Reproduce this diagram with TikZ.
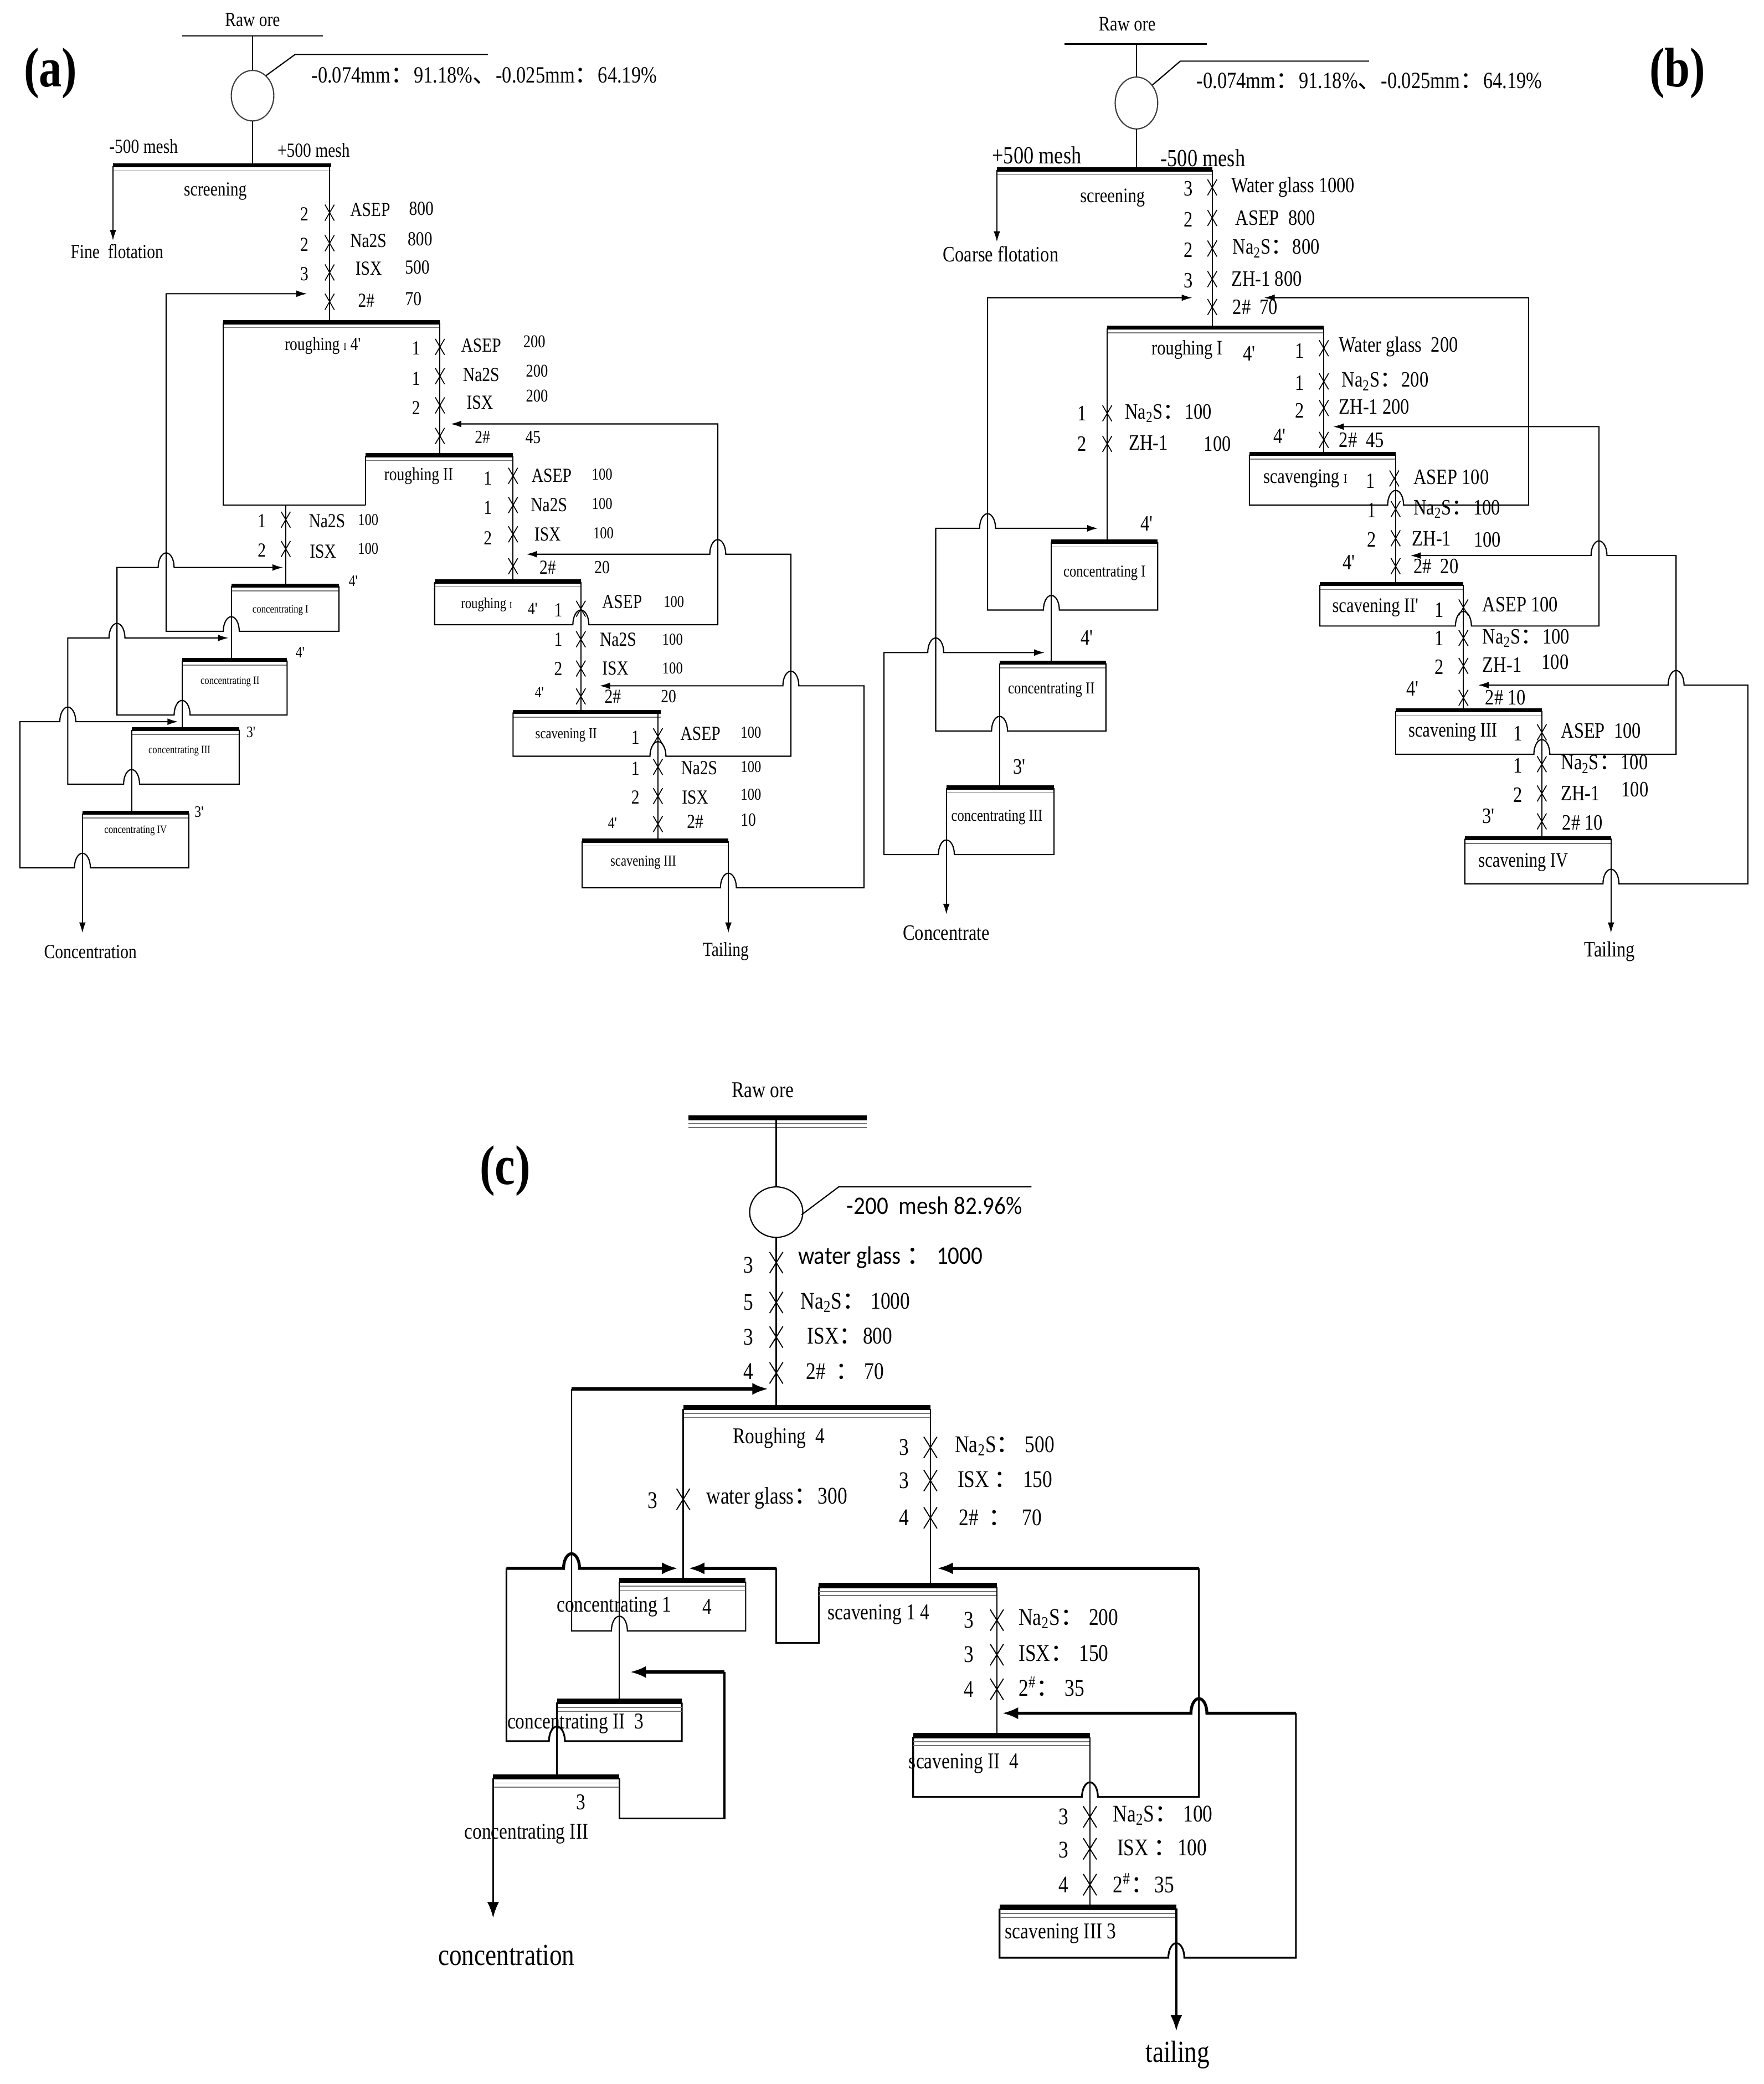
\documentclass[tikz,border=0pt]{standalone}
\usepackage{fontspec}
\setmainfont{Liberation Serif}[FakeStretch=0.82]
\newfontfamily\cjk{Noto Sans CJK SC}
\newfontfamily\calfont{Carlito}[FakeStretch=0.9]
\usetikzlibrary{arrows.meta}
\newcommand\fc{{\cjk ：}}
\newcommand\dn{{\cjk 、}}
\newcommand\pr{\textquotesingle}
\newcommand\fs[1]{\fontsize{#1}{#1}\selectfont}
\newcounter{tn}
\newcommand\T[4][]{\stepcounter{tn}\node[#1] (n\arabic{tn}) at (#2,#3) {#4};}
\newcommand\cellbar[3]{%
  \draw[line width=3pt] (#1,{#3-0.5}) -- (#2,{#3-0.5});
  \draw[line width=0.7pt,black!55] (#1,{#3+3.5}) -- (#2,{#3+3.5});}
\newcommand\cellbarC[3]{%
  \draw[line width=4pt] (#1,{#3-1}) -- (#2,{#3-1});
  \draw[line width=0.8pt,black!55] (#1,{#3+3.5}) -- (#2,{#3+3.5});
  \draw[line width=0.8pt,black!55] (#1,{#3+6.5}) -- (#2,{#3+6.5});}
\newcommand\xm[2]{\draw[line width=0.7pt] ({#1-3.5},{#2-6}) -- ({#1+3.5},{#2+6}) ({#1-3.5},{#2+6}) -- ({#1+3.5},{#2-6});}
\newcommand\xmC[2]{\draw[line width=0.8pt] ({#1-5},{#2-8}) -- ({#1+5},{#2+8}) ({#1-5},{#2+8}) -- ({#1+5},{#2-8});}
\def\hopR#1#2{-- ({#1-6},#2) arc[start angle=180,end angle=360,x radius=6,y radius=11]}
\def\hopL#1#2{-- ({#1+6},#2) arc[start angle=0,end angle=-180,x radius=6,y radius=11]}
\tikzset{
  arr/.style={-{Latex[length=8pt,width=5pt]}},
  arrC/.style={-{Latex[length=12pt,width=9pt]},line width=2.2pt},
  every node/.style={inner sep=0pt},
}
\begin{document}
\begin{tikzpicture}[x=1pt,y=-1pt,line width=0.9pt]
\useasboundingbox (0,0) rectangle (1327,1568);
\fill[white] (0,0) rectangle (1327,1568);

%%%%%%%%%%%%%%%% PANEL A
\begin{scope}[every node/.style={inner sep=0pt,font=\fs{15}}]
\T[font=\fs{42}\bfseries]{38}{55}{(a)}
\T{190}{15}{Raw ore}
\draw[line width=1.2pt,black!70] (137,27) -- (243,27);
\draw (190,27) -- (190,53);
\draw[black!75] (190,72) ellipse [x radius=16,y radius=19];
\draw (200,57) -- (222,41) -- (367,41);
\T[anchor=west,font=\fs{17.5}]{234}{57}{-0.074mm\fc 91.18\%\dn -0.025mm\fc 64.19\%}
\draw (190,91) -- (190,125);
\cellbar{85}{249}{125}
\T{108}{110}{-500 mesh}
\T{236}{113}{+500 mesh}
\T{162}{144}{screening}
\draw[arr] (85,125) -- (85,181);
\T{88}{189}{Fine\ \ flotation}
\draw (248,125) -- (248,243);
\xm{248}{160}\T{229}{161}{2}\T[anchor=west]{263}{158}{ASEP}\T{317}{157}{800}
\xm{248}{183}\T{229}{184}{2}\T[anchor=west]{263}{181}{Na2S}\T{316}{180}{800}
\xm{248}{205}\T{229}{206}{3}\T[anchor=west]{267}{202}{ISX}\T{314}{201}{500}
\xm{248}{227}\T[anchor=west]{269}{226}{2\#}\T{311}{225}{70}

% roughing I
\cellbar{168}{331}{243}
\draw (168,243) -- (168,380) -- (275,380);
\draw (331,243) -- (331,343);
\T[font=\fs{14}]{243}{260}{roughing {\fs{8}I} 4\pr}
\xm{331}{261}\T{313}{262}{1}\T{362}{260}{ASEP}\T[font=\fs{13.5}]{402}{257}{200}
\xm{331}{283}\T{313}{285}{1}\T{362}{282}{Na2S}\T[font=\fs{13.5}]{404}{279}{200}
\xm{331}{305}\T{313}{307}{2}\T{361}{303}{ISX}\T[font=\fs{13.5}]{404}{298}{200}
\xm{331}{328}\T[font=\fs{14}]{363}{329}{2\#}\T[font=\fs{14}]{401}{329}{45}

% roughing II
\cellbar{275}{386}{343}
\draw (275,343) -- (275,380);
\draw (386,343) -- (386,438);
\T[font=\fs{14}]{315}{358}{roughing II}
\xm{386}{358}\T{367}{360}{1}\T{415}{358}{ASEP}\T[font=\fs{12.5}]{453}{357}{100}
\xm{386}{380}\T{367}{382}{1}\T{413}{380}{Na2S}\T[font=\fs{12.5}]{453}{379}{100}
\xm{386}{402}\T{367}{405}{2}\T{412}{402}{ISX}\T[font=\fs{12.5}]{454}{401}{100}
\xm{386}{426}\T{412}{427}{2\#}\T[font=\fs{14}]{453}{427}{20}

% concentrate line of roughing
\draw (215,380) -- (215,441);
\xm{215}{391}\T{197}{392}{1}\T{246}{392}{Na2S}\T[font=\fs{12.5}]{277}{391}{100}
\xm{215}{413}\T{197}{414}{2}\T{243}{415}{ISX}\T[font=\fs{12.5}]{277}{413}{100}

% roughing I (third box)
\cellbar{327}{437}{438}
\draw[arr] (327,438) -- (327,470) \hopR{437}{470} -- (540,470) -- (540,319) -- (339,319);
\draw (437,438) -- (437,536);
\T[font=\fs{11.5}]{366}{455}{roughing {\fs{7}I}}\T[font=\fs{13}]{401}{458}{4\pr}
\xm{437}{458}\T{420}{459}{1}\T{468}{453}{ASEP}\T[font=\fs{12.5}]{507}{453}{100}
\xm{437}{481}\T{420}{481}{1}\T{465}{481}{Na2S}\T[font=\fs{12.5}]{506}{481}{100}
\xm{437}{503}\T{420}{503}{2}\T{463}{503}{ISX}\T[font=\fs{12.5}]{506}{503}{100}
\xm{437}{524}\T[font=\fs{12}]{406}{521}{4\pr}\T{461}{524}{2\#}\T[font=\fs{14}]{503}{524}{20}

% scavening II
\cellbar{386}{497}{536}
\draw[arr] (386,536) -- (386,569) \hopR{495}{569} -- (595,569) -- (595,417) \hopL{540}{417} -- (396,417);
\draw (495,536) -- (495,633);
\T[font=\fs{11.5}]{426}{553}{scavening II}
\xm{495}{554}\T{478}{555}{1}\T{527}{552}{ASEP}\T[font=\fs{12.5}]{565}{551}{100}
\xm{495}{577}\T{478}{578}{1}\T{526}{578}{Na2S}\T[font=\fs{12.5}]{565}{577}{100}
\xm{495}{599}\T{478}{600}{2}\T{523}{600}{ISX}\T[font=\fs{12.5}]{565}{598}{100}
\xm{495}{620}\T[font=\fs{12}]{461}{619}{4\pr}\T{523}{618}{2\#}\T[font=\fs{14}]{563}{617}{10}

% scavening III
\cellbar{438}{548}{633}
\draw[arr] (438,633) -- (438,668) \hopR{548}{668} -- (650,668) -- (650,516) \hopL{595}{516} -- (451,516);
\draw[arr] (548,633) -- (548,702);
\T[font=\fs{11.5}]{484}{649}{scavening III}
\T{546}{716}{Tailing}

% concentrating
\cellbar{174}{255}{441}
\draw[arr] (255,441) -- (255,475) \hopL{174}{475} -- (125,475) -- (125,221) -- (231,221);
\draw (174,441) -- (174,497);
\T[font=\fs{8.5}]{211}{459}{concentrating I}\T[font=\fs{12}]{266}{437}{4\pr}
\cellbar{137}{216}{497}
\draw[arr] (216,497) -- (216,538) \hopL{137}{538} -- (88,538) -- (88,427) \hopR{125}{427} -- (213,427);
\draw (137,497) -- (137,549);
\T[font=\fs{8.5}]{173}{513}{concentrating II}\T[font=\fs{12}]{226}{491}{4\pr}
\cellbar{99}{180}{549}
\draw[arr] (180,549) -- (180,590) \hopL{99}{590} -- (51,590) -- (51,480) \hopR{88}{480} -- (172,480);
\draw (99,549) -- (99,612);
\T[font=\fs{8.5}]{135}{565}{concentrating III}\T[font=\fs{12}]{189}{551}{3\pr}
\cellbar{62}{142}{612}
\draw[arr] (142,612) -- (142,653) \hopL{62}{653} -- (15,653) -- (15,543) \hopR{51}{543} -- (134,543);
\draw[arr] (62,612) -- (62,702);
\T[font=\fs{8.5}]{102}{625}{concentrating IV}\T[font=\fs{12}]{150}{611}{3\pr}
\T{68}{716}{Concentration}
\end{scope}

%%%%%%%%%%%%%%%% PANEL B
\begin{scope}[every node/.style={inner sep=0pt,font=\fs{16.5}}]
\T[font=\fs{42}\bfseries]{1262}{55}{(b)}
\T[font=\fs{15.5}]{848}{18}{Raw ore}
\draw[line width=1.2pt] (801,33) -- (908,33);
\draw (855,33) -- (855,58);
\draw[black!75] (855,77.5) ellipse [x radius=16,y radius=19.5];
\draw (867,64) -- (888,46) -- (1030,46);
\T[anchor=west,font=\fs{17.5}]{900}{61}{-0.074mm\fc 91.18\%\dn -0.025mm\fc 64.19\%}
\draw (855,97) -- (855,128);
\cellbar{750}{912}{128}
\T[font=\fs{18.5}]{780}{117}{+500 mesh}
\T[font=\fs{18.5}]{905}{119}{-500 mesh}
\T[font=\fs{15.5}]{837}{149}{screening}
\draw[arr] (750,128) -- (750,182);
\T{753}{191}{Coarse flotation}
\draw (912,128) -- (912,247);
\xm{912}{141}\T{894}{142}{3}\T[anchor=west]{926}{141}{Water glass 1000}
\xm{912}{164}\T{894}{165}{2}\T[anchor=west]{929}{164}{ASEP\ \ 800}
\xm{912}{187}\T{894}{188}{2}\T[anchor=west]{927}{187}{Na\textsubscript{2}S\fc 800}
\xm{912}{210}\T{894}{211}{3}\T[anchor=west]{926}{210}{ZH-1 800}
\xm{912}{231}\T[anchor=west]{927}{231}{2\#\ \ 70}

% roughing I
\cellbar{833}{996}{247}
\draw (996,247) -- (996,342);
\draw (833,247) -- (833,408);
\T[font=\fs{15.5}]{893}{263}{roughing I}\T{940}{266}{4\pr}
\xm{996}{262}\T{978}{264}{1}\T[anchor=west]{1007}{261}{Water glass\ \ 200}
\xm{996}{287}\T{978}{288}{1}\T[anchor=west]{1009}{287}{Na\textsubscript{2}S\fc 200}
\xm{996}{307}\T{978}{309}{2}\T[anchor=west]{1007}{306}{ZH-1\ 200}
\xm{996}{331}\T{963}{328}{4\pr}\T[anchor=west]{1007}{331}{2\#\ \ 45}
\xm{833}{311}\T{814}{311}{1}\T[anchor=west]{846}{311}{Na\textsubscript{2}S\fc 100}
\xm{833}{334}\T{814}{334}{2}\T[anchor=west]{849}{333}{ZH-1}\T{916}{334}{100}

% scavenging I
\cellbar{940}{1050}{342}
\draw[arr] (940,342) -- (940,380) \hopR{1050}{380} -- (1150,380) -- (1150,224) -- (951,224);
\draw (1050,342) -- (1050,440);
\T[font=\fs{15.5}]{982}{360}{scavenging {\fs{10}I}}\T{1031}{362}{1}\xm{1049}{360}\T[anchor=west]{1063}{359}{ASEP 100}
\xm{1050}{383}\T{1032}{384}{1}\T[anchor=west]{1063}{383}{Na\textsubscript{2}S\fc 100}
\xm{1050}{405}\T{1032}{406}{2}\T[anchor=west]{1062}{405}{ZH-1}\T{1119}{406}{100}
\xm{1050}{426}\T{1015}{423}{4\pr}\T[anchor=west]{1063}{426}{2\#\ \ 20}

% scavening II
\cellbar{993}{1101}{440}
\draw[arr] (993,440) -- (993,471) \hopR{1101}{471} -- (1203,471) -- (1203,321) -- (1003,321);
\draw (1101,440) -- (1101,535);
\T[font=\fs{15.5}]{1035}{457}{scavening II\pr}\T{1083}{459}{1}\xm{1101}{457}\T[anchor=west]{1115}{455}{ASEP 100}
\xm{1101}{480}\T{1083}{480}{1}\T[anchor=west]{1115}{480}{Na\textsubscript{2}S\fc 100}
\xm{1101}{501}\T{1083}{502}{2}\T[anchor=west]{1115}{500}{ZH-1}\T{1170}{498}{100}
\xm{1101}{525}\T{1063}{518}{4\pr}\T[anchor=west]{1117}{525}{2\#\ 10}

% scavening III
\cellbar{1050}{1160}{535}
\draw[arr] (1050,535) -- (1050,567.5) \hopR{1160}{567.5} -- (1261,567.5) -- (1261,418) \hopL{1203}{418} -- (1061,418);
\draw (1160,535) -- (1160,631);
\T[font=\fs{15.5}]{1093}{551}{scavening III}\T{1142}{552}{1}\xm{1160}{551}\T[anchor=west]{1174}{550}{ASEP\ \ 100}
\xm{1160}{575}\T{1142}{576}{1}\T[anchor=west]{1174}{575}{Na\textsubscript{2}S\fc 100}
\xm{1160}{597}\T{1142}{598}{2}\T[anchor=west]{1174}{597}{ZH-1}\T{1230}{594}{100}
\xm{1160}{618}\T{1120}{614}{3\pr}\T[anchor=west]{1175}{619}{2\#\ 10}

% scavening IV
\cellbar{1102}{1212}{631}
\draw[arr] (1102,631) -- (1102,665) \hopR{1212}{665} -- (1315,665) -- (1315,515.5) \hopL{1261}{515.5} -- (1112,515.5);
\draw[arr] (1212,631) -- (1212,702);
\T[font=\fs{15.5}]{1146}{649}{scavening IV}
\T{1211}{716}{Tailing}

% concentrating
\cellbar{791}{871}{408}
\draw[arr] (871,408) -- (871,459) \hopL{791}{459} -- (743,459) -- (743,224) -- (897,224);
\draw (791,408) -- (791,499);
\T[font=\fs{12.5}]{831}{431}{concentrating I}\T{863}{394}{4\pr}
\cellbar{752}{832}{499}
\draw[arr] (832,499) -- (832,550) \hopL{752}{550} -- (704,550) -- (704,397.5) \hopR{743}{397.5} -- (826,397.5);
\draw (752,499) -- (752,593);
\T[font=\fs{12.5}]{791}{519}{concentrating II}\T{818}{480}{4\pr}
\cellbar{712}{793}{593}
\draw[arr] (793,593) -- (793,643) \hopL{712}{643} -- (665,643) -- (665,491) \hopR{704}{491} -- (786,491);
\draw[arr] (712,593) -- (712,688);
\T[font=\fs{12.5}]{750}{615}{concentrating III}\T{767}{577}{3\pr}
\T{712}{702}{Concentrate}
\end{scope}

%%%%%%%%%%%%%%%% PANEL C
\begin{scope}[every node/.style={inner sep=0pt,font=\fs{18}}]
\T[font=\fs{42}\bfseries]{380}{881}{(c)}
\T[font=\fs{17}]{574}{820}{Raw ore}
\cellbarC{518}{652}{842}
\draw (584,842) -- (584,893);
\draw (584,912) ellipse [x radius=20,y radius=19];
\draw (603,914) -- (631,893) -- (776,893);
\T[font=\calfont\fs{19}]{703}{907}{-200\ \ mesh 82.96\%}
\draw (584,931) -- (584,1060);
\xmC{584}{950}\T{563}{952}{3}\T[anchor=west,font=\calfont\fs{19}]{600}{946}{water glass\ \fc\ 1000}
\xmC{584}{980}\T{563}{980}{5}\T[anchor=west]{602}{980}{Na\textsubscript{2}S\fc\ 1000}
\xmC{584}{1006}\T{563}{1006}{3}\T[anchor=west]{607}{1005}{ISX\fc 800}
\xmC{584}{1033}\T{563}{1032}{4}\T[anchor=west]{606}{1032}{2\#\ \ \fc\ 70}
\draw (561,1190) -- (561,1227) \hopL{466}{1227} -- (430,1227) -- (430,1045);
\draw[arrC] (430,1045) -- (578,1045);

% roughing
\cellbarC{514}{700}{1060}
\draw (514,1060) -- (514,1190);
\draw (700,1060) -- (700,1194);
\T[font=\fs{17}]{586}{1082}{Roughing\ \ 4}
\xmC{514}{1128}\T{491}{1129}{3}\T[anchor=west]{531}{1127}{water glass\fc 300}
\xmC{700}{1089}\T{680}{1089}{3}\T[anchor=west]{718}{1088}{Na\textsubscript{2}S\fc\ 500}
\xmC{700}{1114}\T{680}{1114}{3}\T[anchor=west]{720}{1113}{ISX\ \fc\ 150}
\xmC{700}{1142}\T{680}{1142}{4}\T[anchor=west]{721}{1142}{2\#\ \ \fc\ \ 70}

% returns to y=1180
\draw[line width=1.3pt] (513,1281) -- (513,1310) \hopL{419}{1310} -- (381,1310) -- (381,1180);
\draw[arrC] (381,1180) \hopR{430}{1180} -- (510,1180);
\draw[line width=1.3pt] (616,1194) -- (616,1236) -- (584,1236) -- (584,1180);
\draw[arrC] (584,1180) -- (518,1180);
\draw[line width=1.3pt] (687,1307) -- (687,1352) \hopR{820}{1352} -- (902,1352) -- (902,1180);
\draw[arrC] (902,1180) -- (705,1180);
\draw[line width=1.3pt] (752,1436) -- (752,1473) \hopR{885}{1473} -- (975,1473) -- (975,1289);
\draw[arrC] (975,1289) \hopL{902}{1289} -- (754,1289);
\draw[line width=1.3pt] (466,1338) -- (466,1368) -- (545,1368) -- (545,1258);
\draw[arrC] (545,1258) -- (474,1258);

% concentrating
\cellbarC{466}{561}{1190}
\draw (466,1190) -- (466,1281);
\T[font=\fs{17}]{462}{1209}{concentrating 1}\T[font=\fs{17}]{532}{1209}{4}
\cellbarC{419}{513}{1281}
\draw (419,1281) -- (419,1338);
\T[font=\fs{17}]{433}{1297}{concentrating II\ \ 3}
\cellbarC{371}{466}{1338}
\draw[arrC,line width=1.4pt] (371,1338) -- (371,1443);
\T[font=\fs{17}]{437}{1356}{3}
\T[font=\fs{17}]{396}{1380}{concentrating III}
\T[font=\fs{23}]{381}{1471}{concentration}

% scavening
\cellbarC{616}{750}{1194}
\draw (750,1194) -- (750,1307);
\T[font=\fs{17}]{661}{1215}{scavening 1 4}
\xmC{750}{1219}\T{729}{1219}{3}\T[anchor=west]{766}{1218}{Na\textsubscript{2}S\fc\ 200}
\xmC{750}{1245}\T{729}{1245}{3}\T[anchor=west]{766}{1244}{ISX\fc\ 150}
\xmC{750}{1271}\T{729}{1271}{4}\T[anchor=west]{766}{1269}{2\textsuperscript{\#}\fc\ 35}
\cellbarC{687}{820}{1307}
\draw (820,1307) -- (820,1436);
\T[font=\fs{17}]{725}{1327}{scavening II\ \ 4}
\xmC{820}{1367}\T{800}{1367}{3}\T[anchor=west]{837}{1366}{Na\textsubscript{2}S\fc\ 100}
\xmC{820}{1391}\T{800}{1392}{3}\T[anchor=west]{840}{1390}{ISX\ \fc 100}
\xmC{820}{1418}\T{800}{1418}{4}\T[anchor=west]{837}{1417}{2\textsuperscript{\#}\fc 35}
\cellbarC{752}{885}{1436}
\draw[arrC,line width=1.4pt] (885,1436) -- (885,1528);
\T[font=\fs{17}]{798}{1455}{scavening III 3}
\T[font=\fs{23}]{886}{1546}{tailing}
\end{scope}
\end{tikzpicture}
\end{document}
